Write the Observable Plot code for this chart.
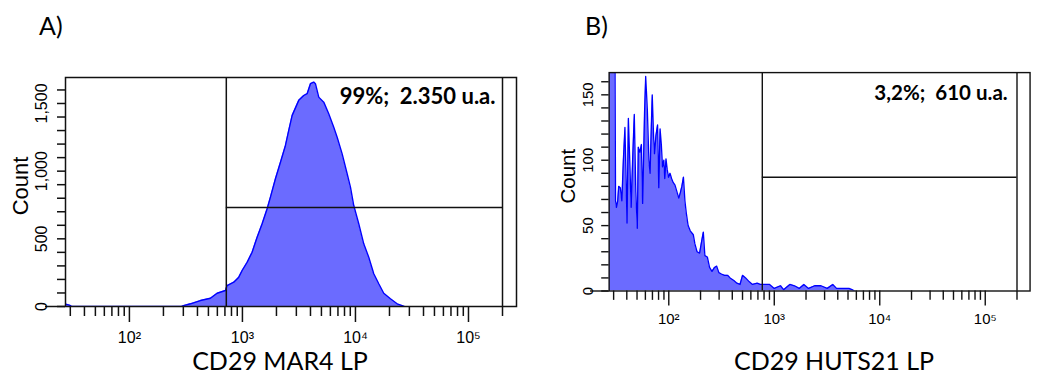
<!DOCTYPE html>
<html><head><meta charset="utf-8">
<script src="https://cdn.jsdelivr.net/npm/d3@7"></script>
<script src="https://cdn.jsdelivr.net/npm/@observablehq/plot@0.6"></script>
<style>
html,body{margin:0;padding:0;background:#fff;overflow:hidden;}
#wrap{position:relative;width:1052px;height:376px;overflow:hidden;background:#fff;}
.panel{position:absolute;top:60px;}
.tag{position:absolute;font-family:Lato,'Open Sans',sans-serif;font-size:25px;line-height:1;color:#000;}
.cap{position:absolute;font-family:Lato,'Open Sans',sans-serif;font-size:25px;line-height:24px;height:24px;color:#000;white-space:nowrap;transform:translateX(-50%);}
</style></head><body>
<div id="wrap">
  <div class="tag" style="left:39px;top:13px">A)</div>
  <div class="tag" style="left:585px;top:13px">B)</div>
  <div id="pa" class="panel" style="left:0px"></div>
  <div id="pb" class="panel" style="left:548px"></div>
  <div class="cap" style="left:280px;top:348px">CD29 MAR4 LP</div>
  <div class="cap" style="left:834px;top:348px">CD29 HUTS21 LP</div>
</div>
<script>
// Panel A histogram (fluorescence intensity, count)
const aX = [27.3, 29.5, 31, 290, 302, 347, 425, 521, 597, 707, 732, 838, 928, 994, 1101, 1218, 1349, 1494, 1654, 1769, 1959, 2170, 2402, 2569, 2754, 3150, 3487, 3737, 3998, 4276, 4426, 4735, 5243, 5802, 6427, 6888, 7627, 8443, 9032, 9661, 10695, 11843, 13114, 14520, 16077, 17800, 20400, 23390, 25900, 27000];
const aY = [18, 10, 0, 0, 7, 20, 44, 61, 98, 118, 155, 180, 217, 266, 327, 401, 512, 611, 722, 808, 944, 1066, 1190, 1301, 1412, 1523, 1559, 1572, 1646, 1658, 1646, 1547, 1510, 1424, 1325, 1251, 1128, 981, 882, 746, 611, 463, 364, 242, 168, 98, 57, 20, 7, 0];
// Panel B histogram
const bX = [27.3, 30.7, 31.3, 31.9, 32.8, 33.5, 34.7, 35.9, 37.1, 38.4, 39.2, 40.2, 41.4, 42.5, 44.0, 45.4, 47.1, 48.7, 50.3, 51.4, 53.2, 55.0, 56.5, 58.9, 60.4, 62.6, 64.8, 66.5, 68.3, 69.7, 71.7, 73.2, 75.6, 78.3, 80.4, 82.7, 85.0, 87.2, 89.8, 91.6, 94.1, 96.6, 99.4, 102.7, 106.3, 110.0, 114.6, 119.4, 124.4, 128.5, 133.0, 137.7, 142.2, 146.4, 152.5, 159.8, 170.9, 176.9, 185.4, 195.9, 207.0, 212.5, 220.0, 232.0, 243.6, 256.8, 271.4, 284.4, 298.7, 314.9, 337.6, 361.0, 381.4, 413.9, 442.6, 473.4, 500.2, 535.0, 580.3, 622.0, 688.8, 736.6, 815.5, 903.2, 1000, 1146, 1226, 1405, 1556, 1723, 1908, 2113, 2417, 2771, 3176, 3588, 3893, 4610, 5105, 5462, 5769];
const bY = [240, 240, 69, 64, 69, 80, 79, 69, 100, 125, 93, 52, 132, 104, 64, 100, 135, 76, 48, 110, 106, 112, 67, 136, 164, 139, 100, 90, 126, 150, 119, 105, 119, 127, 79, 124, 112, 95, 100, 86, 101, 93, 87, 90, 86, 83, 81, 76, 71, 75, 80, 87, 69, 60, 50, 46, 43, 36, 30, 29, 40, 45, 27, 26, 18, 15, 18, 19, 14, 13, 12, 12, 10, 8, 6, 5, 12, 10, 7, 5, 6, 5, 5, 5, 2, 4, 1, 5, 4, 2, 5, 2, 4, 4, 2, 5, 2, 2, 2, 1, 0];

// Gates and annotations
const gateXA = 720, gateYA = 732, statA = "99%;\u00a0 2.350 u.a.";
const gateXB = 770, gateYB = 87, statB = "3,2%;\u00a0 610 u.a.";
const gateRight = 200000;

// Axes
const xDomain = [27.2, 266000];
const xMajor = [100, 1000, 10000, 100000];
const xMajorLabels = ["10\u00b2", "10\u00b3", "10\u2074", "10\u2075"];
const xMinor = [30, 40, 50, 60, 70, 80, 90, 200, 300, 400, 500, 600, 700, 800, 900, 2000, 3000, 4000, 5000, 6000, 7000, 8000, 9000, 20000, 30000, 40000, 50000, 60000, 70000, 80000, 90000, 200000];
const yMaxA = 1692, yMinorA = [0,100,200,300,400,500,600,700,800,900,1000,1100,1200,1300,1400,1500,1600];
const yMajorA = [0, 500, 1000, 1500], yLabelsA = ["0", "500", "1,000", "1,500"];
const yMaxB = 167, yMinorB = [0,10,20,30,40,50,60,70,80,90,100,110,120,130,140,150,160];
const yMajorB = [0, 50, 100, 150], yLabelsB = ["0", "50", "100", "150"];

const INK = "#111";
function panel(o) {
  const data = o.xs.map((x, i) => ({x, y: o.ys[i]}));
  const tickStyle = {stroke: INK, strokeWidth: 1.5, tickFormat: () => "", label: null};
  return Plot.plot({
    width: 540, height: 292,
    marginLeft: 65, marginRight: 24, marginTop: o.mt, marginBottom: o.mb,
    x: {type: "log", domain: xDomain, axis: null},
    y: {domain: [0, o.yMax], axis: null},
    style: {fontFamily: "'Liberation Sans', Arial, sans-serif", background: "transparent", overflow: "visible", color: "#000"},
    marks: [
      Plot.areaY(data, {x: "x", y: "y", fill: "#6b6bff", clip: true}),
      Plot.lineY(data, {x: "x", y: "y", stroke: "#0000ff", strokeWidth: 1.4, clip: true}),
      Plot.ruleX([o.gateX], {stroke: INK, strokeWidth: 1.5}),
      Plot.ruleY([o.gateY], {x1: o.gateX, x2: gateRight, stroke: INK, strokeWidth: 1.5}),
      Plot.ruleX([gateRight], {stroke: INK, strokeWidth: 1.5}),
      Plot.frame({stroke: INK, strokeWidth: 1.5}),
      Plot.axisX(xMinor, {...tickStyle, tickSize: 10}),
      Plot.axisX(xMajor, {...tickStyle, tickSize: 16}),
      Plot.text(xMajor, {x: d => d, text: (d, i) => xMajorLabels[i], frameAnchor: "bottom", dy: o.xdy, lineAnchor: "bottom", textAnchor: "middle", fontSize: 16, fill: "#000"}),
      Plot.axisY(o.yMinor, {...tickStyle, tickSize: 8}),
      Plot.axisY([0], {...tickStyle, tickSize: 20}),
      Plot.text(o.yMajor, {y: d => d, text: (d, i) => o.yLabels[i], frameAnchor: "left", rotate: -90, dx: o.ldx, lineAnchor: "bottom", textAnchor: "middle", fontSize: 16, fill: "#000"}),
      Plot.text(["Count"], {frameAnchor: "left", rotate: -90, dx: o.cdx, dy: -6, lineAnchor: "bottom", textAnchor: "middle", fontSize: 22, fill: "#000"}),
      Plot.text([o.stat], {frameAnchor: "top-right", dx: o.sdx, dy: o.sdy, lineAnchor: "top", textAnchor: "end", fontSize: 22, fontWeight: "bold", fontFamily: "Lato, 'Open Sans', sans-serif", fill: "#000"})
    ]
  });
}

document.getElementById("pa").append(panel({xs: aX, ys: aY, yMax: yMaxA, yMinor: yMinorA, yMajor: yMajorA, yLabels: yLabelsA, gateX: gateXA, gateY: gateYA, stat: statA, mt: 17, mb: 46, xdy: 36, sdx: -21, sdy: 11, ldx: -19, cdx: -38}));
document.getElementById("pb").append(panel({xs: bX, ys: bY, yMax: yMaxB, yMinor: yMinorB, yMajor: yMajorB, yLabels: yLabelsB, gateX: gateXB, gateY: gateYB, stat: statB, mt: 13, mb: 45, xdy: 35, sdx: -24, sdy: 14, ldx: -17, cdx: -37}));
</script>
</body></html>
